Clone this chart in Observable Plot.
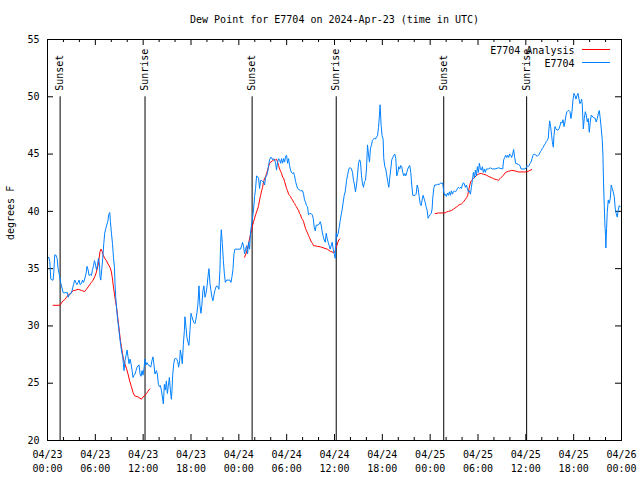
<!DOCTYPE html>
<html><head><meta charset="utf-8">
<script src="https://cdn.jsdelivr.net/npm/d3@7"></script>
<script src="https://cdn.jsdelivr.net/npm/@observablehq/plot@0.6"></script>
<style>body{margin:0;background:#fff} #chart svg{display:block}</style>
</head><body><div id="chart"></div>
<script>
// ---- data (hours after 2024-04-23 00:00 UTC, degrees F) ----
const titleText = "Dew Point for E7704 on 2024-Apr-23 (time in UTC)";
const yLabel = "degrees F";
const seriesNames = ["E7704 Analysis", "E7704"];
const seriesColors = ["#ff0000", "#0080ff"];

const obsPoints = [[0.04,35.9],[0.16,36.0],[0.29,35.6],[0.41,34.1],[0.58,34.0],[0.70,34.0],[0.79,34.7],[0.91,36.2],[1.04,36.2],[1.21,35.9],[1.33,35.0],[1.54,34.3],[1.67,33.7],[1.83,33.3],[1.96,32.9],[2.17,32.9],[2.51,32.9],[2.59,32.5],[2.71,32.7],[2.92,32.8],[3.09,33.1],[3.26,33.6],[3.42,34.0],[3.55,33.8],[3.67,33.6],[3.84,33.8],[3.96,34.0],[4.09,33.6],[4.26,33.7],[4.39,34.0],[4.51,33.8],[4.67,34.1],[4.84,34.6],[4.96,35.2],[5.09,34.9],[5.21,34.4],[5.39,34.5],[5.51,34.4],[5.64,34.9],[5.76,35.2],[5.89,35.7],[6.01,35.4],[6.14,34.9],[6.27,35.3],[6.39,35.9],[6.52,35.4],[6.59,34.3],[6.68,34.0],[6.80,34.9],[6.93,35.9],[7.06,37.2],[7.18,38.1],[7.31,38.5],[7.43,38.8],[7.56,39.1],[7.68,39.7],[7.81,39.9],[7.89,39.1],[8.02,38.1],[8.15,37.2],[8.27,36.0],[8.40,35.1],[8.47,33.7],[8.56,32.5],[8.68,31.4],[8.81,30.5],[8.93,29.8],[9.06,29.0],[9.19,28.3],[9.31,27.7],[9.44,27.3],[9.52,26.7],[9.60,26.1],[9.73,27.0],[9.85,27.4],[9.98,27.9],[10.10,27.3],[10.23,26.7],[10.35,27.1],[10.48,26.7],[10.61,26.1],[10.73,25.5],[10.86,25.7],[10.98,25.8],[11.11,26.1],[11.23,26.4],[11.36,26.5],[11.48,26.6],[11.61,25.8],[11.73,25.6],[11.86,26.1],[11.98,25.7],[12.11,26.3],[12.23,27.1],[12.36,26.6],[12.48,26.8],[12.61,26.6],[12.86,26.5],
[12.95,26.4],[13.11,27.0],[13.23,27.3],[13.36,26.6],[13.48,25.8],[13.66,26.1],[13.78,25.8],[13.91,24.9],[14.03,24.7],[14.16,24.8],[14.28,24.4],[14.41,23.8],[14.53,23.2],[14.66,24.9],[14.78,24.4],[14.91,25.2],[15.04,24.1],[15.16,24.8],[15.29,25.5],[15.41,24.4],[15.54,23.6],[15.62,24.4],[15.70,25.7],[15.83,26.7],[15.95,27.1],[16.08,27.2],[16.20,27.1],[16.33,26.9],[16.45,26.4],[16.58,27.0],[16.66,27.9],[16.79,27.4],[16.91,26.7],[17.04,28.4],[17.17,29.6],[17.24,30.8],[17.37,29.9],[17.49,29.0],[17.62,28.6],[17.74,28.3],[17.87,29.6],[18.00,31.1],[18.12,30.8],[18.25,30.5],[18.37,30.3],[18.50,30.2],[18.62,30.6],[18.75,31.2],[18.87,31.9],[19.00,33.5],[19.12,31.8],[19.25,31.1],[19.37,31.9],[19.50,33.1],[19.62,33.5],[19.75,32.5],[19.87,32.8],[20.00,33.4],[20.13,34.3],[20.25,35.0],[20.38,33.7],[20.50,33.1],[20.63,32.5],[20.75,32.2],[20.88,32.7],[21.00,33.1],[21.13,33.4],[21.25,33.5],[21.38,33.4],[21.50,33.2],[21.63,34.9],[21.72,37.3],[21.80,38.4],[21.93,37.2],[22.06,35.7],[22.18,34.6],[22.31,33.8],[22.47,34.0],[22.64,34.0],[22.89,34.0],[23.01,33.8],[23.14,34.3],[23.26,34.9],[23.39,36.3],[23.51,36.7],[23.81,36.7],[24.22,36.7],[24.35,37.0],[24.47,37.3],[24.60,36.9],[24.72,36.3],[24.85,36.7],[24.97,37.0],[25.10,36.3],[25.22,37.3],[25.35,36.7],[25.48,38.3],[25.60,38.8],[25.73,39.5],[25.85,40.2],[25.98,41.3],[26.10,42.0],[26.23,43.1],[26.35,43.0],[26.48,42.9],[26.60,42.0],[26.73,42.7],[26.86,42.7],[26.98,42.6],[27.11,42.6],[27.23,42.3],[27.36,43.0],[27.48,43.1],[27.61,43.4],[27.73,44.0],[27.86,44.5],[27.98,44.7],[28.11,44.7],[28.23,44.5],[28.36,44.6],[28.48,44.5],[28.61,44.2],[28.73,43.6],[28.86,44.3],[28.99,44.6],[29.11,44.5],[29.24,44.2],[29.36,44.6],[29.49,44.2],[29.61,44.6],[29.74,44.3],[29.86,44.8],[29.99,44.9],[30.11,44.2],[30.24,44.6],[30.36,44.0],[30.49,43.6],[30.61,43.4],[30.74,43.3],[30.86,43.4],[30.99,43.1],[31.12,42.6],[31.24,42.3],[31.37,42.0],[31.74,41.8],[31.99,41.8],[32.12,41.5],[32.24,41.0],[32.37,40.8],[32.49,40.5],[32.62,40.4],[32.74,39.7],[32.87,39.8],[33.08,39.8],[33.20,39.7],[33.33,39.4],[33.46,38.6],[33.58,38.3],[33.71,38.8],[33.96,38.8],[34.08,38.9],[34.21,39.1],[34.33,38.8],[34.46,38.2],[34.59,37.8],[34.71,37.5],[34.84,37.3],[34.96,38.1],[35.09,37.6],[35.21,37.3],[35.34,37.0],[35.46,36.7],[35.59,37.0],[35.71,37.3],[35.84,36.7],[35.96,36.3],[36.09,35.9],[36.22,38.1],[36.34,37.8],[36.47,38.1],[36.59,38.6],[36.72,39.2],[36.84,39.7],[36.97,40.2],[37.09,40.8],[37.22,41.4],[37.34,41.7],[37.45,42.3],[37.51,42.7],[37.63,43.1],[37.76,43.6],[37.88,43.8],[38.01,43.8],[38.13,43.7],[38.26,43.4],[38.38,42.7],[38.51,42.3],[38.63,41.7],[38.76,42.3],[38.88,43.1],[39.01,44.2],[39.14,44.5],[39.26,44.3],[39.39,43.1],[39.51,42.4],[39.64,42.1],[39.76,42.6],[39.89,42.7],[40.01,43.7],[40.14,45.8],[40.26,45.0],[40.39,44.3],[40.51,45.5],[40.64,45.8],[40.76,46.2],[40.89,46.3],[41.02,46.4],[41.14,46.3],[41.27,46.5],[41.39,46.6],[41.52,47.3],[41.64,48.4],[41.72,49.3],[41.85,47.5],[41.97,46.6],[42.10,46.3],[42.18,44.6],[42.31,43.9],[42.43,43.7],[42.56,43.1],[42.68,42.6],[42.81,42.1],[42.93,42.9],[43.06,43.7],[43.18,44.5],[43.31,44.7],[43.44,44.9],[43.56,45.0],[43.69,44.6],[43.81,43.1],[43.94,43.4],[44.06,43.9],[44.19,43.7],[44.31,44.0],[44.44,43.9],[44.56,43.4],[44.69,43.1],[44.82,43.3],[44.94,43.1],[45.07,43.4],[45.19,43.7],[45.32,43.9],[45.44,44.0],[45.57,43.4],[45.69,42.3],[45.82,41.4],[46.11,41.4],[46.24,41.5],[46.37,42.3],[46.49,42.0],[46.62,41.3],[46.74,40.7],[46.87,40.5],[46.99,41.0],[47.12,41.4],[47.24,41.1],[47.37,40.8],[47.49,40.4],[47.62,40.1],[47.74,39.4],[47.87,39.6],[47.99,39.7],[48.12,39.8],[48.24,40.2],[48.32,41.1],[48.45,42.0],[48.57,42.3],[48.82,42.3],[48.95,42.4],[49.07,42.3],[49.20,42.4],[49.32,42.5],[49.45,42.4],[49.57,42.5],[49.70,41.7],[49.82,41.4],[49.91,41.5],[50.04,41.3],[50.16,41.6],[50.29,41.4],[50.41,41.7],[50.54,41.4],[50.66,41.8],[50.79,41.5],[50.91,41.7],[51.04,41.8],[51.17,41.7],[51.29,41.8],[51.42,42.0],[51.54,42.1],[51.67,42.0],[51.79,42.1],[51.92,42.0],[52.04,42.3],[52.17,42.5],[52.29,42.4],[52.42,42.1],[52.54,42.3],[52.67,42.0],[52.79,41.7],[52.92,41.8],[53.05,41.5],[53.17,42.1],[53.30,42.7],[53.42,43.4],[53.55,42.9],[53.67,43.6],[53.80,43.1],[53.92,43.9],[54.05,43.4],[54.17,44.2],[54.30,43.7],[54.42,43.6],[54.55,43.9],[54.67,43.4],[54.80,43.7],[54.92,43.4],[55.05,43.7],[55.30,43.7],[55.55,43.8],[55.80,43.7],[56.14,43.7],[56.55,43.8],[57.10,43.7],[57.22,44.5],[57.35,44.7],[57.47,44.9],[57.60,44.7],[57.72,44.9],[57.85,44.7],[57.97,45.0],[58.10,44.9],[58.22,44.7],[58.35,45.0],[58.47,45.4],[58.60,44.7],[58.72,44.2],[59.06,44.1],[59.27,44.0],[59.40,43.7],[59.90,43.7],[60.03,43.8],[60.15,44.0],[60.28,43.9],[60.40,44.0],[60.53,44.2],[60.65,44.3],[60.78,44.6],[60.90,44.9],[61.03,45.0],[61.28,44.9],[61.44,44.8],[61.57,44.9],[61.69,45.0],[61.82,45.2],[61.94,45.3],[62.07,45.5],[62.19,45.6],[62.32,45.8],[62.44,45.9],[62.57,46.1],[62.69,46.2],[62.82,46.4],[62.90,47.2],[62.99,47.9],[63.11,47.4],[63.24,46.6],[63.32,46.1],[63.45,45.6],[63.53,46.6],[63.66,47.4],[63.78,47.2],[63.91,47.1],[64.03,47.1],[64.16,47.2],[64.29,47.5],[64.41,47.8],[64.54,47.7],[64.66,48.0],[64.79,47.4],[64.91,47.8],[65.04,48.4],[65.16,48.7],[65.29,48.8],[65.41,48.8],[65.54,48.7],[65.66,48.1],[65.79,48.7],[65.91,49.7],[66.04,50.3],[66.17,50.1],[66.29,49.8],[66.42,50.1],[66.54,50.3],[66.67,49.8],[66.79,49.4],[66.92,49.6],[67.00,49.8],[67.08,49.3],[67.21,47.2],[67.33,48.1],[67.46,48.7],[67.58,48.4],[67.71,47.8],[67.83,48.1],[67.96,46.9],[68.08,47.8],[68.21,48.4],[68.46,48.2],[68.71,48.1],[68.83,47.8],[68.96,48.1],[69.09,48.5],[69.21,48.8],[69.34,48.1],[69.46,47.2],[69.59,46.2],[69.67,44.9],[69.75,42.4],[69.84,40.5],[69.92,38.8],[70.00,37.9],[70.04,36.8],[70.13,38.5],[70.21,39.9],[70.34,41.0],[70.46,40.7],[70.59,41.1],[70.71,42.3],[70.84,42.0],[70.96,41.7],[71.09,41.3],[71.22,40.2],[71.34,39.8],[71.47,39.5],[71.59,40.1],[71.72,40.5],[71.84,40.4]];

const anaPoints = [[0.70,31.8],[1.54,31.8],[1.75,32.0],[1.96,32.2],[2.17,32.3],[2.38,32.5],[2.59,32.7],[2.80,32.8],[3.01,32.9],[3.22,33.1],[3.42,33.1],[3.84,33.2],[4.26,33.1],[4.67,33.0],[4.88,33.2],[5.09,33.4],[5.30,33.6],[5.51,33.8],[5.72,34.0],[5.93,34.3],[6.14,34.7],[6.35,35.3],[6.47,35.9],[6.59,36.5],[6.72,36.7],[6.85,36.5],[6.97,36.2],[7.18,35.9],[7.39,35.7],[7.60,35.4],[7.85,35.1],[8.02,34.7],[8.15,34.1],[8.27,33.4],[8.40,32.8],[8.52,32.2],[8.65,31.7],[8.77,31.0],[8.90,30.2],[9.02,29.5],[9.15,28.7],[9.27,28.2],[9.40,27.6],[9.52,27.1],[9.69,26.7],[9.90,26.3],[10.10,25.8],[10.31,25.2],[10.52,24.7],[10.73,24.2],[10.94,23.9],[11.36,23.8],[11.78,23.6],[11.98,23.8],[12.19,23.9],[12.41,24.1],[12.61,24.3],[12.82,24.5],
[18.00,null],
[24.72,36.0],[24.97,36.45],[25.14,36.9],[25.31,37.5],[25.48,38.05],[25.60,38.35],[25.73,38.8],[25.85,39.1],[25.98,39.4],[26.10,39.7],[26.23,39.95],[26.35,40.2],[26.48,40.5],[26.60,41.0],[26.73,41.4],[26.86,41.8],[26.98,42.1],[27.11,42.6],[27.23,42.9],[27.36,43.0],[27.48,43.3],[27.61,43.6],[27.73,43.9],[27.86,44.2],[27.98,44.3],[28.20,44.4],[28.40,44.5],[28.61,44.5],[28.73,44.55],[28.86,44.3],[28.99,44.0],[29.11,43.7],[29.24,43.5],[29.36,43.3],[29.49,43.0],[29.61,42.9],[29.74,42.6],[29.86,42.3],[29.99,42.0],[30.11,41.8],[30.24,41.5],[30.36,41.4],[30.49,41.3],[30.61,41.1],[30.74,41.0],[30.86,40.8],[30.99,40.7],[31.12,40.5],[31.24,40.4],[31.37,40.2],[31.49,40.1],[31.62,39.8],[31.74,39.7],[31.87,39.4],[31.99,39.3],[32.12,39.1],[32.24,38.8],[32.37,38.5],[32.49,38.3],[32.62,38.1],[32.74,37.9],[32.87,37.7],[32.99,37.5],[33.12,37.3],[33.24,37.2],[33.37,37.0],[33.50,37.0],[33.83,36.95],[34.25,36.9],[34.66,36.8],[35.09,36.7],[35.50,36.5],[35.91,36.4],[36.04,36.45],[36.17,36.75],[36.29,37.0],[36.42,37.3],[36.54,37.5],[36.67,37.6],
[42.00,null],
[48.62,39.8],[49.04,39.86],[49.66,39.86],[49.87,39.86],[50.08,39.95],[50.29,40.0],[50.50,40.03],[50.70,40.09],[50.91,40.18],[51.13,40.3],[51.33,40.38],[51.54,40.53],[51.75,40.6],[51.95,40.67],[52.17,40.82],[52.38,41.02],[52.58,41.2],[52.71,41.4],[52.83,41.84],[52.96,42.27],[53.08,42.57],[53.21,42.71],[53.42,42.86],[53.63,43.0],[53.83,43.15],[54.05,43.24],[54.26,43.3],[54.46,43.3],[54.67,43.24],[54.89,43.2],[55.09,43.15],[55.30,43.06],[55.51,43.0],[55.71,42.94],[55.93,42.86],[56.14,42.8],[56.34,42.77],[56.55,42.71],[56.77,42.86],[56.97,43.0],[57.18,43.15],[57.39,43.35],[57.59,43.44],[57.81,43.5],[58.02,43.53],[58.22,43.58],[58.65,43.53],[59.06,43.44],[59.69,43.44],[60.10,43.44],[60.31,43.5],[60.53,43.58],[60.73,43.64]];

const eventTimes = ["2024-04-23T01:35Z","2024-04-23T12:14Z","2024-04-24T01:40Z","2024-04-24T12:13Z","2024-04-25T01:42Z","2024-04-25T12:06Z"];
const eventLabels = ["Sunset","Sunrise","Sunset","Sunrise","Sunset","Sunrise"];
const eventTop = 50;

const yTicks = [20,25,30,35,40,45,50,55];
const xTickHours = [0,6,12,18,24,30,36,42,48,54,60,66,72];
const xTickLabels = ["04/23\n00:00","04/23\n06:00","04/23\n12:00","04/23\n18:00","04/24\n00:00","04/24\n06:00","04/24\n12:00","04/24\n18:00","04/25\n00:00","04/25\n06:00","04/25\n12:00","04/25\n18:00","04/26\n00:00"];
const xMinorHours = [2,4,8,10,14,16,20,22,26,28,32,34,38,40,44,46,50,52,56,58,62,64,68,70];

// ---- build ----
const t0 = Date.UTC(2024,3,23);
const hr = h => new Date(t0 + h*3600e3);
const obs = obsPoints.map(([h,v]) => ({t: hr(h), v}));
const ana = anaPoints.map(([h,v]) => ({t: hr(h), v}));
const events = eventTimes.map((t,i) => ({t: new Date(t), label: eventLabels[i]}));
const majors = xTickHours.map(hr);
const minors = xMinorHours.map(hr);
const labelMap = new Map(majors.map((d,i) => [+d, xTickLabels[i]]));

const W = 640, H = 480, mt = 39, mb = 40, ml = 47, mr = 19;
const pH = H - mt - mb, pW = W - ml - mr;
const font = "'DejaVu Sans Mono', monospace";

const chart = Plot.plot({
  width: W, height: H,
  marginTop: mt, marginBottom: mb, marginLeft: ml, marginRight: mr,
  style: {fontFamily: font, fontSize: "10px", background: "#fff", color: "#000"},
  x: {type: "utc", domain: [hr(0), hr(72)]},
  y: {domain: [20, 55]},
  marks: [
    Plot.axisX(majors, {tickSize: 0, tickPadding: 8, tickFormat: d => labelMap.get(+d), lineHeight: 1.4, label: null, fontSize: 10}),
    Plot.axisY(yTicks, {tickSize: 0, tickPadding: 8, label: null, fontSize: 10}),
    Plot.ruleX(majors, {x: d => d, insetTop: pH - 6, stroke: "#000"}),
    Plot.ruleX(majors, {x: d => d, insetBottom: pH - 6, stroke: "#000"}),
    Plot.ruleX(minors, {x: d => d, insetTop: pH - 3, stroke: "#000"}),
    Plot.ruleX(minors, {x: d => d, insetBottom: pH - 3, stroke: "#000"}),
    Plot.ruleY(yTicks, {y: d => d, insetRight: pW - 6, stroke: "#000"}),
    Plot.ruleY(yTicks, {y: d => d, insetLeft: pW - 6, stroke: "#000"}),
    Plot.ruleX(events, {x: "t", y1: 20, y2: eventTop, stroke: "#000", strokeWidth: 1}),
    Plot.text(events, {x: "t", y: eventTop, text: "label", rotate: -90, textAnchor: "start", dy: -6, fill: "#000", fontSize: 10}),
    Plot.line(ana, {x: "t", y: "v", stroke: seriesColors[0], strokeWidth: 1}),
    Plot.line(obs, {x: "t", y: "v", stroke: seriesColors[1], strokeWidth: 1}),
    Plot.frame({stroke: "#000"}),
    Plot.text([titleText], {frameAnchor: "top", dy: -20, lineAnchor: "middle", text: d => d, fill: "#000", fontSize: 10}),
    Plot.text([yLabel], {frameAnchor: "left", dx: -37, rotate: -90, text: d => d, fill: "#000", fontSize: 10}),
    Plot.text([seriesNames[0]], {frameAnchor: "top-right", dx: -47, dy: 11, lineAnchor: "middle", text: d => d, textAnchor: "end", fill: "#000", fontSize: 10}),
    Plot.text([seriesNames[1]], {frameAnchor: "top-right", dx: -47, dy: 24, lineAnchor: "middle", text: d => d, textAnchor: "end", fill: "#000", fontSize: 10})
  ]
});

// legend swatches
const svg = d3.select(chart);
seriesNames.forEach((n, i) => {
  const y = mt + 10.5 + i * 13;
  svg.append("line").attr("x1", 582).attr("x2", 610).attr("y1", y).attr("y2", y)
    .attr("stroke", seriesColors[i]).attr("stroke-width", 1);
});
document.getElementById("chart").append(chart);
</script>
</body></html>
